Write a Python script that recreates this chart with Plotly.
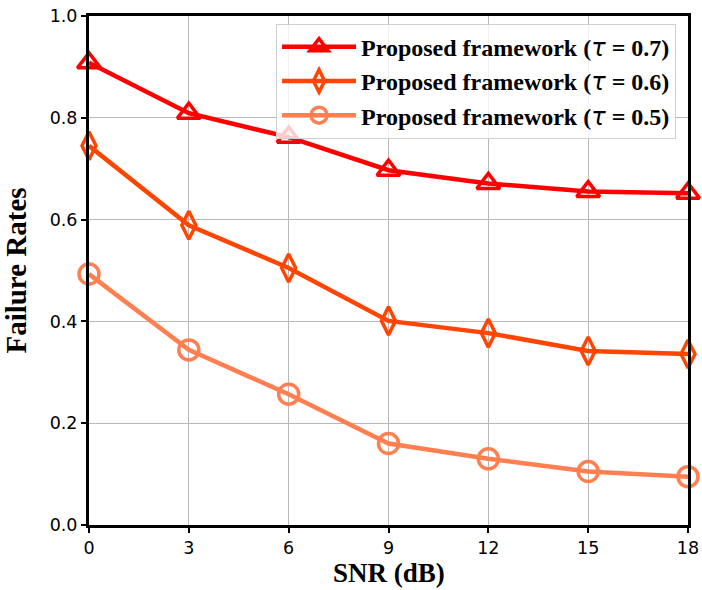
import plotly.graph_objects as go

# SNR sweep (dB) and failure rates per threshold
snr_db = [0, 3, 6, 9, 12, 15, 18]
fail_tau07 = [0.908, 0.809, 0.762, 0.697, 0.671, 0.655, 0.652]
fail_tau06 = [0.745, 0.589, 0.505, 0.401, 0.377, 0.342, 0.336]
fail_tau05 = [0.493, 0.344, 0.257, 0.160, 0.130, 0.105, 0.095]

TAU = '<span style="font-family:DejaVu Sans;font-style:italic;font-weight:normal">τ</span>'
series = [
    ("Proposed framework (" + TAU + " = 0.7)", fail_tau07, "#FF0000", "triangle-up-open"),
    ("Proposed framework (" + TAU + " = 0.6)", fail_tau06, "#FF4500", "diamond-tall-open"),
    ("Proposed framework (" + TAU + " = 0.5)", fail_tau05, "#FF7F50", "circle-open"),
]

fig = go.Figure()
for name, vals, color, symbol in series:
    fig.add_trace(go.Scatter(
        x=snr_db, y=vals, name="<b>" + name + "</b>", mode="lines+markers",
        line=dict(color=color, width=4.5),
        marker=dict(symbol=symbol, size=20, color=color,
                    line=dict(color=color, width=3.5)),
        cliponaxis=False,
    ))

axis_common = dict(
    showline=True, linecolor="black", linewidth=3, mirror=True,
    ticks="outside", ticklen=5, tickwidth=1.5, tickcolor="black",
    showgrid=True, gridcolor="#b8b8b8", gridwidth=1,
    zeroline=False, automargin=False,
    tickfont=dict(family="DejaVu Sans", size=17.5, color="black"),
    title_font=dict(family="Liberation Serif", size=29, color="black"),
)

fig.update_layout(
    width=702, height=590,
    margin=dict(l=89, r=14, t=16, b=65),
    paper_bgcolor="white", plot_bgcolor="white",
    xaxis=dict(range=[0, 18], tickvals=snr_db, **axis_common),
    yaxis=dict(range=[0, 1.0], tickvals=[0, 0.2, 0.4, 0.6, 0.8, 1.0], tickformat=".1f",
               title=dict(text="<b>Failure Rates</b>"), **axis_common),
    legend=dict(
        x=0.98, y=0.985, xanchor="right", yanchor="top",
        bgcolor="rgba(255,255,255,0.8)", bordercolor="#d0d0d0", borderwidth=1,
        font=dict(family="Liberation Serif", size=24, color="black"),
        itemwidth=74, tracegroupgap=0,
    ),
    showlegend=True,
)

# x-axis title placed just beneath the tick labels
fig.add_annotation(
    text="<b>SNR (dB)</b>", xref="paper", yref="paper", x=0.5, y=0,
    xanchor="center", yanchor="top", yshift=-32, showarrow=False, borderpad=0,
    font=dict(family="Liberation Serif", size=27, color="black"),
)

fig.write_html("out.html")
